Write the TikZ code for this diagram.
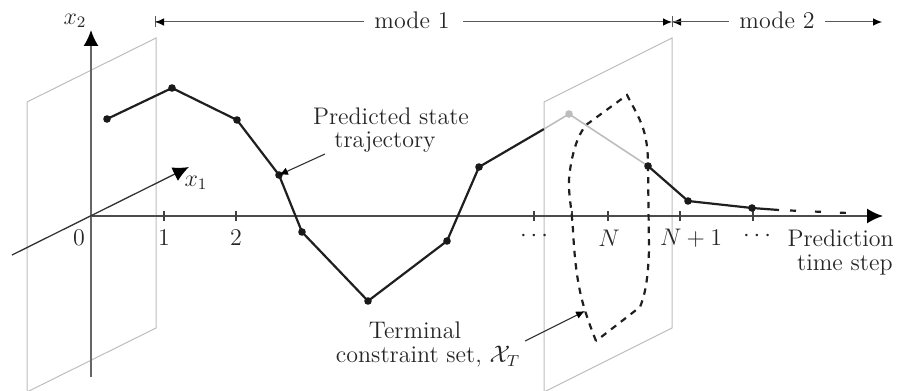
\documentclass[tikz,border=0pt]{standalone}
\usepackage{amssymb}
\usetikzlibrary{arrows.meta}
\definecolor{ink}{gray}{0.15}
\definecolor{planegray}{gray}{0.74}
\tikzset{
  txt/.style={text=ink,inner sep=0pt,font=\fontsize{12}{14}\selectfont},
  plane/.style={draw=planegray,line width=0.5pt},
  traj/.style={draw=black!88,line width=1.1pt,line join=round},
  fade/.style={draw=planegray,line width=0.8pt},
  dot/.style={circle,fill=black!90,inner sep=0pt,minimum size=3.8pt},
  axis/.style={draw=black!70,line width=0.9pt},
  big/.style={-{Latex[length=8pt,width=7.5pt,black]}},
  modearrow/.style={draw=black!65,line width=0.5pt},
  smalltip/.style={-{Latex[length=4.5pt,width=3.8pt,black]}},
  bartip/.style={-{Bar[width=5.5pt,length=0pt]}},
  tick/.style={draw=black!75,line width=0.6pt},
  setline/.style={draw=black!88,line width=1.1pt,dash pattern=on 3.2pt off 3pt},
  callout/.style={draw=black!80,line width=0.55pt,-{Latex[length=4.5pt,width=3.8pt,black]}}
}
\begin{document}
\begin{tikzpicture}[x=0.5pt,y=-0.5pt]
\useasboundingbox (0,0) rectangle (897,390);
\begin{scope}
\clip (0,0) rectangle (897,390);
% planes
\draw[plane] (27,102) -- (156,38) -- (156,328) -- (27,392) -- cycle;
\draw[plane] (544,102) -- (672,38) -- (672,328) -- (544,392) -- cycle;
\end{scope}
% axes
\coordinate (o) at (91,216);
\coordinate (xend) at (883,216);
\coordinate (ybot) at (91,377);
\coordinate (yend) at (91,30);
\coordinate (zbot) at (12,255);
\coordinate (zend) at (189,167);
\draw[axis,big] (o) -- (xend);
\draw[axis,big,draw=black!60] (ybot) -- (yend);
\draw[draw=black!80,line width=0.65pt,big] (zbot) -- (zend);
% ticks
\foreach \x in {164,236,534,572,608,680,753}{
  \draw[tick] (\x,211) -- (\x,221);
}
% tick labels
\node[txt] (l0) at (79,238) {0};
\node[txt] (l1) at (164,238) {1};
\node[txt] (l2) at (236,238) {2};
\node[txt] (ld1) at (534,236) {$\cdots$};
\node[txt] (lN) at (609,238) {$N$};
\node[txt] (lN1) at (691,238) {$N+1$};
\node[txt] (ld2) at (757,236) {$\cdots$};
\node[txt,anchor=east] (pred) at (894,238) {Prediction};
\node[txt,anchor=east] (tstep) at (893,265) {time step};
\node[txt] (x2) at (75,21) {$x_2$};
\node[txt] (x1) at (196,183) {$x_1$};
% mode brackets
\node[txt] (m1) at (412,20) {mode 1};
\node[txt] (m2) at (777,20) {mode 2};
\coordinate (b1) at (155,22);
\coordinate (b2) at (672,22);
\coordinate (e2) at (882,22);
\coordinate (m1w) at ([xshift=-5pt]m1.west |- b1);
\coordinate (m1e) at ([xshift=6.5pt]m1.east |- b2);
\coordinate (m2w) at ([xshift=-5pt]m2.west |- b2);
\coordinate (m2e) at ([xshift=5pt]m2.east |- e2);
\draw[modearrow,bartip] (m1w) -- (b1);
\draw[modearrow,smalltip] (m1w) -- (b1);
\draw[modearrow,smalltip] (m1e) -- (b2);
\draw[modearrow,smalltip] (m2w) -- (b2);
\draw[modearrow,bartip] (m2w) -- (b2);
\draw[modearrow,smalltip] (m2e) -- (e2);
% terminal set
\draw[setline] (596,341) .. controls (584,310) and (576,290) .. (573,230)
  .. controls (571,200) and (567,190) .. (570,170)
  .. controls (573,150) and (578,135) .. (586,125) -- (627,95)
  .. controls (640,120) and (648,130) .. (648,166) -- (649,250)
  .. controls (648,280) and (645,295) .. (640,307) -- (596,341);
% trajectory
\coordinate (p0) at (107,119);
\coordinate (p1) at (172,88);
\coordinate (p2) at (237,120);
\coordinate (p3) at (279,175);
\coordinate (p4) at (302,232);
\coordinate (p5) at (368,301);
\coordinate (p6) at (447,241);
\coordinate (p7) at (479,167);
\coordinate (p7b) at (544,129);
\coordinate (p8) at (569,114);
\coordinate (p9) at (648,166);
\coordinate (p10) at (688,201);
\coordinate (p11) at (752,208);
\coordinate (p12) at (779,210);
\coordinate (p12b) at (790,210.5);
\coordinate (p13) at (848,213);
\draw[traj] (p0) -- (p1) -- (p2) -- (p3) -- (p4) -- (p5) -- (p6) -- (p7) -- (p7b);
\draw[fade] (p7b) -- (p8) -- (p9);
\draw[traj] (p9) -- (p10) -- (p11) -- (p12);
\draw[draw=black!88,line width=1.1pt,dash pattern=on 3pt off 9.5pt] (p12b) -- (p13);
\foreach \p in {p0,p1,p2,p3,p4,p5,p6,p7,p9,p10,p11}{
  \node[dot] at (\p) {};
}
\node[dot,fill=planegray] at (p8) {};
% callouts
\node[txt] (t1) at (391,116) {Predicted state};
\node[txt] (t2) at (385,142) {trajectory};
\node[txt] (t3) at (415,330) {Terminal};
\node[txt] (t4) at (428,357) {constraint set, $\mathcal{X}_T$};
\coordinate (c1) at (325,154);
\coordinate (c2) at (525,341);
\coordinate (c3) at (585,311);
\draw[callout] (c1) -- (p3);
\draw[callout] (c2) -- (c3);
\end{tikzpicture}
\end{document}
